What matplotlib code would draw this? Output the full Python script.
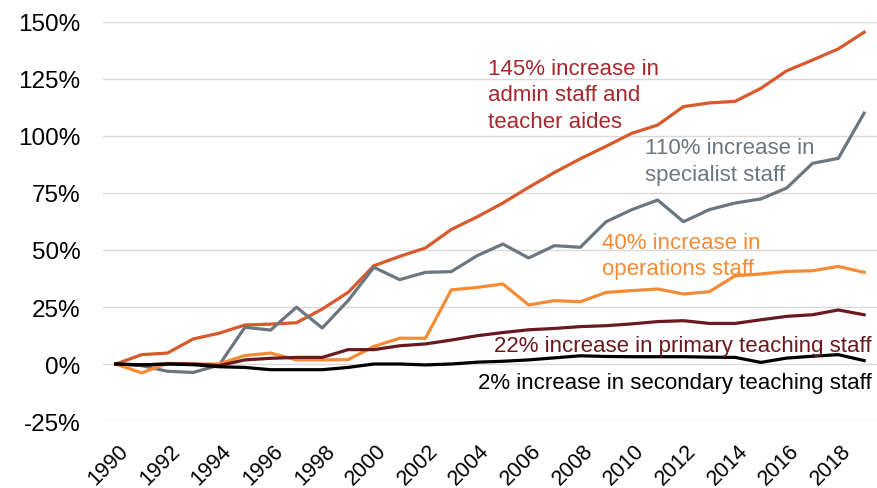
import matplotlib
matplotlib.use('Agg')
import matplotlib.pyplot as plt
import matplotlib.transforms as mtransforms
import numpy as np

plt.rcParams['font.family'] = ['Liberation Sans', 'DejaVu Sans']

years = list(range(1990, 2020))

# % change since 1990
admin = [0, 4.1, 4.8, 11.0, 13.5, 17.1, 17.5, 18.1, 24.1, 31.4,
         43.1, 47.2, 50.9, 59.0, 64.5, 70.6, 77.5, 84.0, 90.0, 95.5,
         101.2, 104.8, 112.9, 114.5, 115.2, 120.9, 128.6, 133.3, 138.2, 145.5]
specialist = [0, -0.7, -3.2, -3.7, -0.5, 16.1, 14.9, 24.9, 15.8, 27.8,
              42.4, 37.0, 40.2, 40.5, 47.5, 52.6, 46.5, 51.9, 51.2, 62.4,
              67.7, 71.9, 62.4, 67.7, 70.6, 72.4, 77.2, 88.0, 90.2, 110.0]
operations = [0, -3.9, 0.3, 0.0, 0.0, 3.7, 4.8, 1.8, 1.8, 1.9,
              7.7, 11.3, 11.3, 32.5, 33.6, 35.1, 25.9, 27.8, 27.3, 31.4,
              32.2, 32.9, 30.7, 31.7, 38.7, 39.5, 40.6, 40.9, 42.8, 40.2]
primary = [0, -0.4, 0.0, 0.0, -0.7, 1.8, 2.5, 2.9, 2.9, 6.3,
           6.3, 8.0, 8.8, 10.5, 12.4, 13.8, 15.0, 15.6, 16.4, 16.8,
           17.6, 18.6, 19.0, 17.8, 17.8, 19.4, 20.9, 21.6, 23.7, 21.6]
secondary = [0, -0.4, 0.0, -0.3, -1.2, -1.5, -2.5, -2.5, -2.5, -1.5,
             0.0, 0.0, -0.4, 0.0, 0.8, 1.2, 1.8, 2.7, 3.6, 3.3,
             3.2, 3.2, 3.2, 3.0, 2.9, 0.7, 2.6, 3.4, 4.1, 1.5]

fig = plt.figure(figsize=(8.77, 4.89), dpi=100)
ax = fig.add_axes([0.1174, 0.137, 0.8826, 0.816])

lw = 2.3
ax.plot(years, admin, color='#D9592A', lw=lw, zorder=3)
ax.plot(years, specialist, color='#6B7680', lw=lw, zorder=3)
ax.plot(years, operations, color='#F68B33', lw=lw, zorder=3)
ax.plot(years, primary, color='#6A1A1E', lw=lw, zorder=3)
ax.plot(years, secondary, color='#000000', lw=lw, zorder=3)

ax.set_xlim(1989.5, 2019.5)
ax.set_ylim(-25, 150)
ax.set_yticks(np.arange(-25, 151, 25))
ax.set_yticklabels([f'{v}%' for v in range(-25, 151, 25)])
ax.set_xticks(years[::2])
ax.set_xticklabels([str(y) for y in years[::2]], rotation=45, ha='right',
                   rotation_mode='anchor')
ax.tick_params(length=0)
ax.tick_params(axis='y', pad=16, labelsize=17.5)
ax.tick_params(axis='x', pad=13.5, labelsize=15.5)
shift = mtransforms.ScaledTranslation(2 / 100, 0, fig.dpi_scale_trans)
for lab in ax.get_xticklabels():
    lab.set_transform(lab.get_transform() + shift)
ax.grid(axis='y', color='#D9D9D9', lw=1.0, zorder=0)
for s in ax.spines.values():
    s.set_visible(False)

fs = 16
ax.text(2004.43, 118, '145% increase in\nadmin staff and\nteacher aides',
        color='#A8272D', fontsize=fs, va='center', ha='left', linespacing=1.35)
ax.text(2010.5, 89, '110% increase in\nspecialist staff',
        color='#6B7680', fontsize=fs, va='center', ha='left', linespacing=1.35)
ax.text(2008.83, 47.5, '40% increase in\noperations staff',
        color='#F68B33', fontsize=fs, va='center', ha='left', linespacing=1.35)
ax.text(2019.3, 8.3, '22% increase in primary teaching staff',
        color='#6A1A1E', fontsize=fs, va='center', ha='right')
ax.text(2019.3, -7.9, '2% increase in secondary teaching staff',
        color='#000000', fontsize=fs, va='center', ha='right')

fig.savefig('out.png', dpi=100)
